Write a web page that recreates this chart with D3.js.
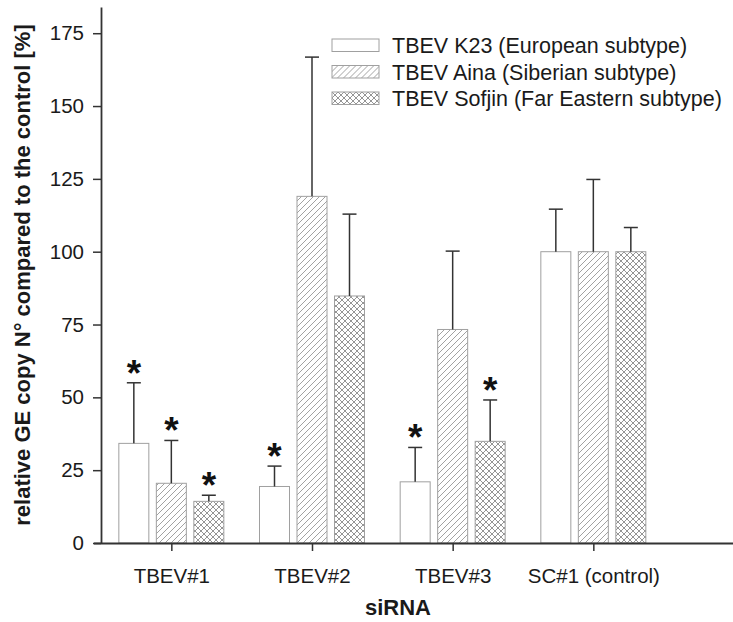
<!DOCTYPE html>
<html lang="en">
<head>
    <meta charset="UTF-8">
    <title>Relative GE copy number by siRNA</title>
    <script src="https://d3js.org/d3.v7.min.js"></script>
    <style>
        body { margin: 0; background: #fff; }
        svg text { font-family: "Liberation Sans", Arial, sans-serif; fill: #1a1a1a; }
    </style>
</head>
<body>
    <div id="chart"></div>
    <script>
        // Data
        const groups = ["TBEV#1", "TBEV#2", "TBEV#3", "SC#1 (control)"];
        const seriesNames = [
            "TBEV K23 (European subtype)",
            "TBEV Aina (Siberian subtype)",
            "TBEV Sofjin (Far Eastern subtype)"
        ];
        const k23 = [34.2, 19.4, 21.0, 100];
        const k23Err = [20.8, 7.0, 11.8, 14.6];
        const aina = [20.5, 119.0, 73.3, 100];
        const ainaErr = [14.7, 47.8, 26.9, 24.8];
        const sofjin = [14.3, 84.8, 34.9, 100];
        const sofjinErr = [2.1, 28.1, 14.2, 8.3];
        // significance marks (*)
        const k23Sig = [true, true, true, false];
        const ainaSig = [true, false, false, false];
        const sofjinSig = [true, false, true, false];
        const yTicks = [0, 25, 50, 75, 100, 125, 150, 175];

        const series = [
            {name: seriesNames[0], values: k23, err: k23Err, sig: k23Sig, fill: "#fff"},
            {name: seriesNames[1], values: aina, err: ainaErr, sig: ainaSig, fill: "url(#hatch)"},
            {name: seriesNames[2], values: sofjin, err: sofjinErr, sig: sofjinSig, fill: "url(#cross)"}
        ];

        const width = 733, height = 622;
        const svg = d3.select("#chart").append("svg")
            .attr("width", width)
            .attr("height", height);

        // patterns
        const defs = svg.append("defs");
        defs.append("pattern")
            .attr("id", "hatch")
            .attr("patternUnits", "userSpaceOnUse")
            .attr("width", 6).attr("height", 6)
            .append("path")
            .attr("d", "M0,6 L6,0 M-1.5,1.5 L1.5,-1.5 M4.5,7.5 L7.5,4.5")
            .attr("stroke", "#8a8a8a").attr("stroke-width", 0.8);
        const cross = defs.append("pattern")
            .attr("id", "cross")
            .attr("patternUnits", "userSpaceOnUse")
            .attr("width", 6).attr("height", 6);
        cross.append("rect").attr("width", 6).attr("height", 6).attr("fill", "#fff");
        cross.append("path")
            .attr("d", "M0,6 L6,0 M-1.5,1.5 L1.5,-1.5 M4.5,7.5 L7.5,4.5 M0,0 L6,6 M-1.5,4.5 L1.5,7.5 M4.5,-1.5 L7.5,1.5")
            .attr("stroke", "#7a7a7a").attr("stroke-width", 0.8);

        // scales
        const x = d3.scaleLinear().domain([0.5, 5]).range([101, 734]);
        const sub = d3.scaleBand().domain([0, 1, 2]).range([-52.5, 52.5]).paddingInner(0.2);
        const y = d3.scaleLinear().domain([0, 184]).range([543, 7]);

        // bars
        series.forEach((s, j) => {
            const g = svg.append("g");
            g.selectAll("rect")
                .data(s.values)
                .join("rect")
                .attr("x", (d, i) => x(i + 1) + sub(j))
                .attr("y", d => y(d))
                .attr("width", sub.bandwidth())
                .attr("height", d => y(0) - y(d))
                .attr("fill", s.fill)
                .attr("stroke", "#a0a0a0")
                .attr("stroke-width", 1);

            // error bars (upper only)
            const cx = i => x(i + 1) + sub(j) + sub.bandwidth() / 2;
            g.selectAll("line.err")
                .data(s.values)
                .join("line")
                .attr("class", "err")
                .attr("x1", (d, i) => cx(i)).attr("x2", (d, i) => cx(i))
                .attr("y1", d => y(d))
                .attr("y2", (d, i) => y(d + s.err[i]))
                .attr("stroke", "#333").attr("stroke-width", 1.5);
            g.selectAll("line.cap")
                .data(s.values)
                .join("line")
                .attr("class", "cap")
                .attr("x1", (d, i) => cx(i) - 7).attr("x2", (d, i) => cx(i) + 7)
                .attr("y1", (d, i) => y(d + s.err[i]))
                .attr("y2", (d, i) => y(d + s.err[i]))
                .attr("stroke", "#333").attr("stroke-width", 1.5);

            // asterisks
            g.selectAll("text.sig")
                .data(s.values.map((d, i) => ({d, i})).filter(o => s.sig[o.i]))
                .join("text")
                .attr("class", "sig")
                .attr("x", o => cx(o.i))
                .attr("y", o => y(o.d + s.err[o.i]) + 3)
                .attr("text-anchor", "middle")
                .attr("font-size", 37)
                .attr("font-weight", "bold")
                .style("fill", "#111")
                .text("*");
        });

        // axes
        const xAxis = svg.append("g")
            .attr("transform", `translate(0,${y(0)})`)
            .call(d3.axisBottom(x).tickValues([1, 2, 3, 4]).tickFormat(d => groups[d - 1])
                .tickSizeInner(8).tickSizeOuter(0).tickPadding(17));
        xAxis.select(".domain").attr("d", `M94,0.5H${width}`);
        xAxis.selectAll("line").attr("stroke", "#333").attr("stroke-width", 1.5);
        xAxis.select(".domain").attr("stroke", "#333").attr("stroke-width", 1.8);
        xAxis.selectAll("text").attr("font-size", 20.5).attr("font-family", null).style("fill", "#1a1a1a");

        const yAxis = svg.append("g")
            .attr("transform", `translate(${x(0.5)},0)`)
            .call(d3.axisLeft(y).tickValues(yTicks).tickSizeInner(8).tickSizeOuter(0).tickPadding(9));
        yAxis.select(".domain").attr("stroke", "#333").attr("stroke-width", 1.8);
        yAxis.selectAll("line").attr("stroke", "#333").attr("stroke-width", 1.5);
        yAxis.selectAll("text").attr("font-size", 20.5).attr("font-family", null).style("fill", "#1a1a1a");

        // axis titles
        svg.append("text")
            .attr("x", 398)
            .attr("y", 615)
            .attr("text-anchor", "middle")
            .attr("font-size", 22)
            .attr("font-weight", "bold")
            .text("siRNA");

        svg.append("text")
            .attr("transform", `translate(30,${(y(0) + y(184)) / 2}) rotate(-90)`)
            .attr("text-anchor", "middle")
            .attr("font-size", 22)
            .attr("font-weight", "bold")
            .text("relative GE copy N\u00B0 compared to the control [%]");

        // legend
        const legend = svg.append("g").attr("transform", "translate(332,39)");
        series.forEach((s, j) => {
            const row = legend.append("g").attr("transform", `translate(0,${j * 26.5})`);
            row.append("rect")
                .attr("width", 47).attr("height", 12.5)
                .attr("fill", s.fill)
                .attr("stroke", "#a0a0a0");
            row.append("text")
                .attr("x", 60).attr("y", 14)
                .attr("font-size", 21.5)
                .text(s.name);
        });
    </script>
</body>
</html>
